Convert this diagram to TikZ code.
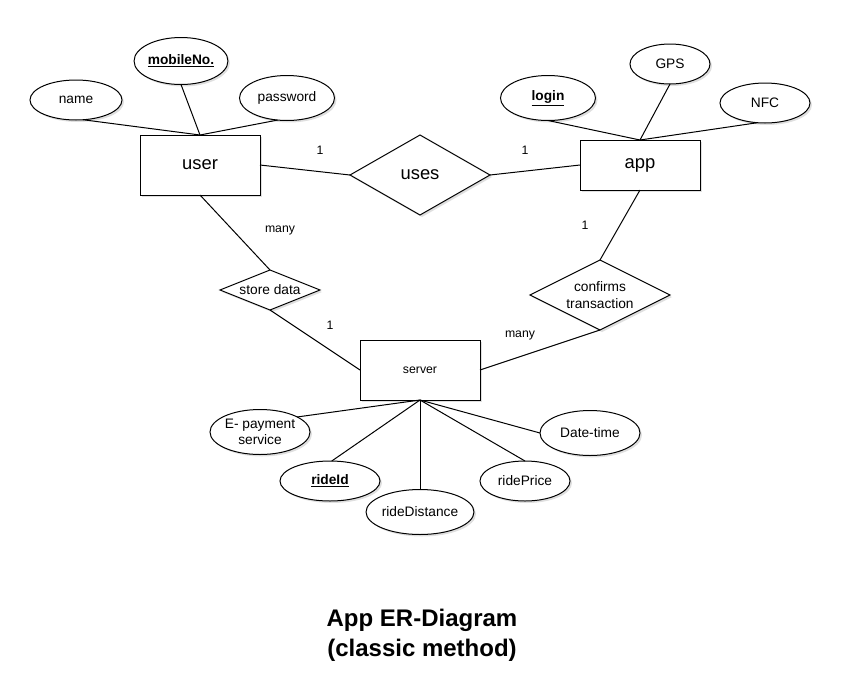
\documentclass[tikz,border=0pt]{standalone}
\usepackage{fontspec}
\setmainfont{Liberation Sans}
\usetikzlibrary{shapes.geometric,shadows}
\begin{document}
\begin{tikzpicture}[x=0.75pt,y=-0.75pt,
  every node/.style={inner sep=0pt,outer sep=0pt,font=\fontsize{10.3}{12.5}\selectfont},
  sz/.style 2 args={minimum width=#1*0.75pt,minimum height=#2*0.75pt},
  shad/.style={drop shadow={shadow xshift=1.5pt,shadow yshift=-1.5pt,opacity=0.25}},
  attr/.style={ellipse,draw,fill=white,shad,line width=0.75pt,align=center},
  ent/.style={rectangle,draw,fill=white,shad,line width=0.75pt,align=center},
  rel/.style={diamond,aspect=2,draw,fill=white,shad,line width=0.75pt,align=center},
  conn/.style={line width=0.75pt},
  card/.style={font=\fontsize{9.2}{11}\selectfont},
  key/.style={font=\fontsize{10.3}{12.5}\selectfont\bfseries},
  big/.style={font=\fontsize{13.8}{16}\selectfont}
]
\useasboundingbox (0,0) rectangle (861,697);
\path
 (76,100) node[attr,sz={92}{40}] (name) {name}
 (181,61) node[attr,sz={83}{47},key] (mobile) {\underline{mobileNo.}}
 (287,98) node[attr,sz={95}{45}] (password) {password}
 (200,165) node[ent,sz={120}{60},big] (user) {user}
 (420,175) node[rel,sz={140}{80},big] (uses) {uses}
 (640,165) node[ent,sz={120}{50},big] (app) {app}
 (548,98) node[attr,sz={95}{45},key] (login) {\underline{login}}
 (670,64) node[attr,sz={80}{40}] (gps) {GPS}
 (765,103) node[attr,sz={90}{40}] (nfc) {NFC}
 (270,290) node[rel,aspect=2.5,sz={100}{40}] (store) {store data}
 (600,295) node[rel,sz={140}{70}] (confirms) {confirms\\transaction}
 (420,370) node[ent,sz={120}{60},card] (server) {server}
 (260,432) node[attr,sz={100}{45}] (epay) {E- payment\\service}
 (330,481) node[attr,sz={100}{40},key] (rideid) {\underline{rideId}}
 (420,512) node[attr,sz={100}{45}] (ridedist) {rideDistance}
 (525,481) node[attr,sz={90}{40}] (rideprice) {ridePrice}
 (590,433) node[attr,sz={100}{45}] (datetime) {Date-time};
\draw[conn] (name.-70) -- (user.north);
\draw[conn] (mobile.south) -- (user.north);
\draw[conn] (password.-113) -- (user.north);
\draw[conn] (user.east) -- (uses.west);
\draw[conn] (uses.east) -- (app.west);
\draw[conn] (login.south) -- (app.north);
\draw[conn] (gps.south) -- (app.north);
\draw[conn] (nfc.-111) -- (app.north);
\draw[conn] (user.south) -- (store.north);
\draw[conn] (store.south) -- (server.west);
\draw[conn] (app.south) -- (confirms.north);
\draw[conn] (confirms.south) -- (server.east);
\draw[conn] (server.south) -- (epay.22);
\draw[conn] (server.south) -- (rideid.85);
\draw[conn] (server.south) -- (ridedist.north);
\draw[conn] (server.south) -- (rideprice.north);
\draw[conn] (server.south) -- (datetime.west);
\node[card] (c1) at (320,150) {1};
\node[card] (c2) at (525,150) {1};
\node[card] (c3) at (280,230) {many};
\node[card] (c4) at (585,225) {1};
\node[card] (c5) at (330,325) {1};
\node[card] (c6) at (520,335) {many};
\node[align=center,font=\fontsize{18}{22.5}\selectfont\bfseries] (title) at (422,635) {App ER-Diagram\\(classic method)};
\end{tikzpicture}
\end{document}
